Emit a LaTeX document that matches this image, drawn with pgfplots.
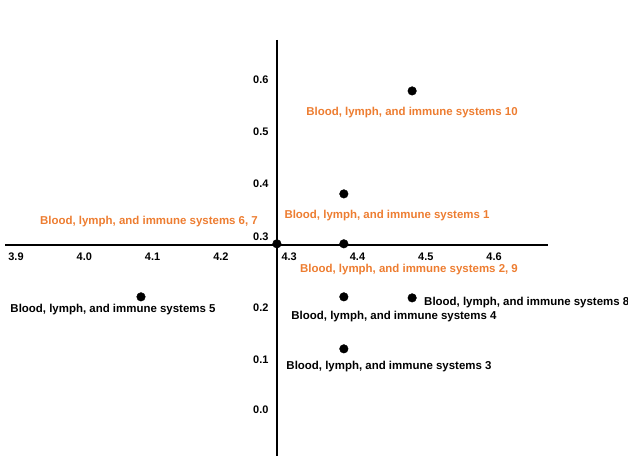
\documentclass[border=0pt]{standalone}
\usepackage{fontspec}
\setmainfont{Liberation Sans}
\usepackage{pgfplots}
\pgfplotsset{compat=1.18}
\usepackage{pgfplotstable}
\definecolor{lblorange}{HTML}{ED7D31}

% points
\pgfplotstableread{
x     y
4.480 0.579
4.380 0.381
4.380 0.285
4.282 0.285
4.083 0.183
4.380 0.183
4.480 0.181
4.380 0.083
}\pts

\tikzset{lbl/.style={font=\bfseries\fontsize{11.5}{13}\selectfont, yshift=-2bp}}

\begin{document}
\begin{tikzpicture}
\useasboundingbox (0,0) rectangle (628bp,456bp);
\clip (0,0) rectangle (628bp,456bp);
\begin{axis}[
  at={(0,0)}, anchor=south west,
  scale only axis, width=628bp, height=456bp,
  xmin=3.87657, xmax=4.79604,
  ymin=-0.12308, ymax=0.75385,
  clip=false,
  axis x line=bottom, axis y line=left,
  axis x line shift=-211bp,
  axis y line shift=-277bp,
  axis line style={draw=none},
  major tick length=0pt,
  tick style={draw=none},
  xtick={3.9,4.0,4.1,4.2,4.3,4.4,4.5,4.6},
  xticklabels={3.9,4.0,4.1,4.2,4.3,4.4,4.5,4.6},
  ytick={0.6,0.5,0.4,0.298,0.162,0.062,-0.035},
  yticklabels={0.6,0.5,0.4,0.3,0.2,0.1,0.0},
  /pgf/number format/assume math mode=true,
  tick label style={font=\bfseries\fontsize{11}{13}\selectfont},
  xticklabel style={yshift=-4bp},
  yticklabel style={xshift=-5bp},
]
\draw[line width=2.6bp] (axis cs:3.884,0.2827) -- (axis cs:4.679,0.2827);
\draw[line width=2.6bp] (axis cs:4.2821,0.677) -- (axis cs:4.2821,-0.13);
\addplot[only marks, mark=*, mark size=4.3bp, black] table[x=x, y=y] {\pts};
\node[lbl, lblorange] at (axis cs:4.4798,0.5404) {Blood, lymph, and immune systems 10};
\node[lbl, lblorange] at (axis cs:4.4432,0.3423) {Blood, lymph, and immune systems 1};
\node[lbl, lblorange] at (axis cs:4.0947,0.3308) {Blood, lymph, and immune systems 6, 7};
\node[lbl, lblorange] at (axis cs:4.4754,0.2385) {Blood, lymph, and immune systems 2, 9};
\node[lbl, anchor=west, inner sep=0pt] at (axis cs:4.4974,0.175) {Blood, lymph, and immune systems 8};
\node[lbl] at (axis cs:4.4534,0.1481) {Blood, lymph, and immune systems 4};
\node[lbl] at (axis cs:4.4461,0.0519) {Blood, lymph, and immune systems 3};
\node[lbl] at (axis cs:4.042,0.1615) {Blood, lymph, and immune systems 5};
\end{axis}
\end{tikzpicture}
\end{document}
